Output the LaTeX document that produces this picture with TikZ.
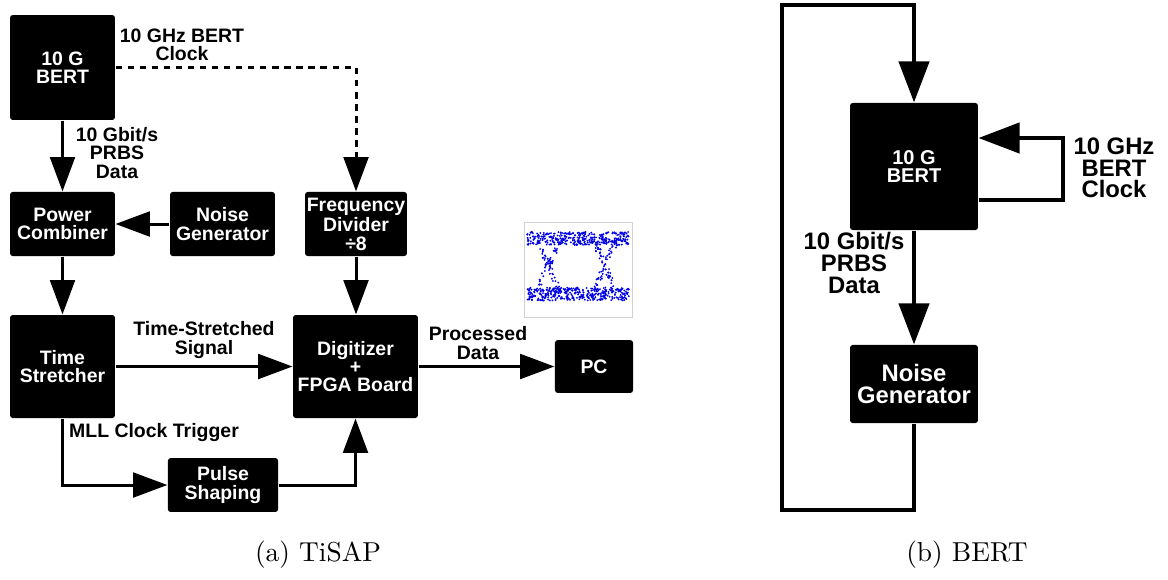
\documentclass[tikz,border=0pt]{standalone}
\usepackage{fontspec}
\setsansfont{Liberation Sans}
\usetikzlibrary{arrows.meta}

\begin{document}
\begin{tikzpicture}[x=0.365pt, y=-0.365pt,
    blk/.style={fill=black, text=white, rounded corners=1pt, inner sep=0pt, align=center,
      font=\sffamily\bfseries\fontsize{7.1}{6.6}\selectfont},
    blkr/.style={blk, font=\sffamily\bfseries\fontsize{8.7}{8.0}\selectfont},
    lbl/.style={align=center, inner sep=0pt, font=\sffamily\bfseries\fontsize{7.1}{6.6}\selectfont},
    lblr/.style={lbl, font=\sffamily\bfseries\fontsize{8.7}{7.9}\selectfont},
    arr/.style={line width=1.1pt, -{Triangle[length=12.5pt,width=9pt]}},
    arrr/.style={line width=1.5pt, line join=miter, -{Triangle[length=15pt,width=11pt]}},
    dot/.style={fill=blue!90!black}]
  \useasboundingbox (0,0) rectangle (1168,579);

  % (a) TiSAP
  \node[blk, minimum width=38.3pt, minimum height=38.3pt] (bert) at (62.5,67.5) {10 G\\BERT};
  \node[blk, minimum width=38.3pt, minimum height=23.4pt] (comb) at (62.5,224) {Power\\Combiner};
  \node[blk, minimum width=38.3pt, minimum height=23.4pt] (noise) at (222.5,224) {Noise\\Generator};
  \node[blk, minimum width=37.2pt, minimum height=23.4pt] (freq) at (356,224) {Frequency\\Divider\\\char"00F7 8};
  \node[blk, minimum width=38.3pt, minimum height=37.6pt] (stretch) at (62.5,366.5) {Time\\Stretcher};
  \node[blk, minimum width=45.6pt, minimum height=37.6pt] (digi) at (355.5,366.5) {Digitizer\\+\\FPGA Board};
  \node[blk, minimum width=40.2pt, minimum height=19.7pt] (pulse) at (223,485) {Pulse\\Shaping};
  \node[blk, minimum width=28.5pt, minimum height=19.3pt] (pc) at (594,366.5) {PC};

  \draw[arr, dash pattern=on 2.3pt off 2.1pt] (bert.east) -| (freq.north);
  \draw[arr] (bert) -- (comb);
  \draw[arr] (noise) -- (comb);
  \draw[arr] (comb) -- (stretch);
  \draw[arr] (freq.south) -- (freq.south |- digi.north);
  \draw[arr] (stretch) -- (digi);
  \draw[arr] (stretch.south) |- (pulse.west);
  \draw[arr] (pulse.east) -| (digi.south);
  \draw[arr] (digi) -- (pc);

  \node[lbl] (clklbl) at (182,45) {10 GHz BERT\\Clock};
  \node[lbl] (datalbl) at (117,153) {10 Gbit/s\\PRBS\\Data};
  \node[lbl] (siglbl) at (204,340) {Time-Stretched\\Signal};
  \node[lbl] (mlllbl) at (154,433) {MLL Clock Trigger};
  \node[lbl] (proclbl) at (478,343) {Processed\\Data};

  % eye diagram
  \draw[gray!35, line width=0.3pt] (524,222) rectangle (632,317);
  \pgfmathsetseed{11}
  \foreach \i in {1,...,360} {
    \pgfmathsetmacro\xx{527+102*rnd}
    \fill[dot] (\xx, 238.5+6.5*rand) circle (0.38pt);
    \pgfmathsetmacro\xx{527+102*rnd}
    \fill[dot] (\xx, 294+6.5*rand) circle (0.38pt);
  }
  \foreach \c in {548,605} {
    \foreach \i in {1,...,40} {
      \pgfmathsetmacro\tt{rnd}
      \fill[dot] (\c-11+22*\tt+3*rand, 241+50*\tt) circle (0.38pt);
      \pgfmathsetmacro\tt{rnd}
      \fill[dot] (\c-11+22*\tt+3*rand, 291-50*\tt) circle (0.38pt);
    }
  }

  \node (capa) at (318,555) {(a) TiSAP};

  % (b) BERT
  \node[blkr, minimum width=46.7pt, minimum height=46.4pt,
    font=\sffamily\bfseries\fontsize{7.3}{6.9}\selectfont] (bert2) at (914,166.5) {10 G\\BERT};
  \node[blkr, minimum width=46.7pt, minimum height=28.5pt] (noise2) at (914,384) {Noise\\Generator};
  \coordinate (loopbl) at (782,510);
  \coordinate (looptl) at (782,5);
  \coordinate (clkout) at (1063,200);
  \coordinate (clkin) at (1063,138);

  \draw[arrr] (noise2.south) |- (loopbl) -- (looptl) -| (bert2.north);
  \draw[arrr] (bert2) -- (noise2);
  \draw[arrr] (clkout -| bert2.east) -- (clkout) -- (clkin) -- (clkin -| bert2.east);

  \node[lblr] (clklbl2) at (1114,168) {10 GHz\\BERT\\Clock};
  \node[lblr] (datalbl2) at (854,263) {10 Gbit/s\\PRBS\\Data};

  \node (capb) at (967,555) {(b) BERT};
\end{tikzpicture}
\end{document}
